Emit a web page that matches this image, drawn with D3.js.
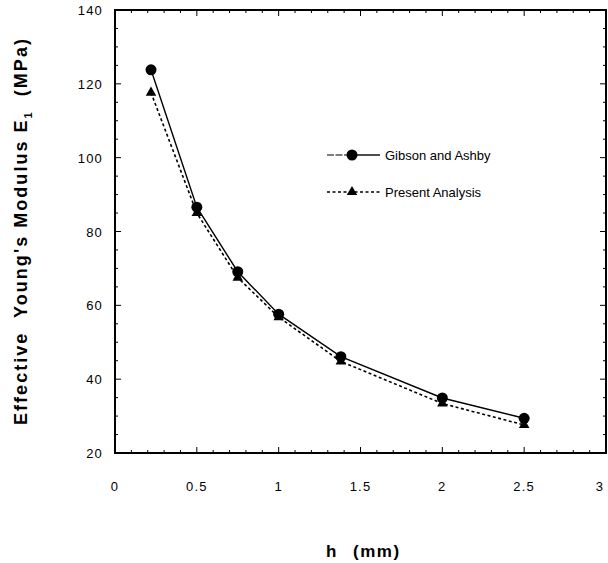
<!DOCTYPE html>
<html><head><meta charset="utf-8">
<script src="https://cdn.jsdelivr.net/npm/d3@7/dist/d3.min.js"></script>
<style>body{margin:0;background:#fff}svg{display:block}text{font-family:"Liberation Sans",Arial,Helvetica,sans-serif}</style>
</head><body><div id="c"></div>
<script>
const hValues = [0.22, 0.5, 0.75, 1.0, 1.38, 2.0, 2.5];
const gibsonAshby = [123.8, 86.6, 69.1, 57.6, 46.1, 34.9, 29.4];
const presentAnalysis = [117.6, 85.0, 67.5, 56.8, 44.8, 33.4, 27.6];
const xTicks = [0, 0.5, 1, 1.5, 2, 2.5, 3];
const xTickLabels = ["0", "0.5", "1", "1.5", "2", "2.5", "3"];
const yTicks = [20, 40, 60, 80, 100, 120, 140];
const seriesNames = ["Gibson and Ashby", "Present Analysis"];

const W = 608, H = 563;
const svg = d3.select("#c").append("svg").attr("width", W).attr("height", H);
const x = d3.scaleLinear().domain([0, 3]).range([115, 606]);
const y = d3.scaleLinear().domain([20, 140]).range([453, 10]);

// frame
svg.append("rect").attr("x", x(0)).attr("y", y(140)).attr("width", x(3) - x(0)).attr("height", y(20) - y(140))
  .attr("fill", "none").attr("stroke", "#000").attr("stroke-width", 2);

// ticks (inward), major and minor
const xMinor = d3.range(0, 3.0001, 0.1).filter(v => Math.abs(v * 2 - Math.round(v * 2)) > 1e-6);
const yMinor = d3.range(20, 140.001, 5).filter(v => v % 20 !== 0);
const tg = svg.append("g").attr("stroke", "#000").attr("stroke-width", 1);
xTicks.forEach(v => {
  tg.append("line").attr("x1", x(v)).attr("x2", x(v)).attr("y1", y(20)).attr("y2", y(20) - 6);
  tg.append("line").attr("x1", x(v)).attr("x2", x(v)).attr("y1", y(140)).attr("y2", y(140) + 6);
});
xMinor.forEach(v => {
  tg.append("line").attr("x1", x(v)).attr("x2", x(v)).attr("y1", y(20)).attr("y2", y(20) - 3);
  tg.append("line").attr("x1", x(v)).attr("x2", x(v)).attr("y1", y(140)).attr("y2", y(140) + 3);
});
yTicks.forEach(v => {
  tg.append("line").attr("x1", x(0)).attr("x2", x(0) + 6).attr("y1", y(v)).attr("y2", y(v));
  tg.append("line").attr("x1", x(3)).attr("x2", x(3) - 6).attr("y1", y(v)).attr("y2", y(v));
});
yMinor.forEach(v => {
  tg.append("line").attr("x1", x(0)).attr("x2", x(0) + 3).attr("y1", y(v)).attr("y2", y(v));
  tg.append("line").attr("x1", x(3)).attr("x2", x(3) - 3).attr("y1", y(v)).attr("y2", y(v));
});

// tick labels
svg.append("g").selectAll("text").data(xTicks).join("text")
  .attr("x", (d) => Math.min(x(d), 600)).attr("y", 491).attr("text-anchor", "middle")
  .attr("font-size", 13).attr("letter-spacing", 1.2)
  .text((d, i) => xTickLabels[i]);
svg.append("g").selectAll("text").data(yTicks).join("text")
  .attr("x", 103).attr("y", d => y(d) + 5).attr("text-anchor", "end")
  .attr("font-size", 13).attr("letter-spacing", 1.2)
  .text(d => d);

// axis titles
const xt = svg.append("g").attr("font-size", 17).attr("font-weight", "bold").attr("letter-spacing", 1.5);
xt.append("text").attr("x", 326).attr("y", 557).text("h");
xt.append("text").attr("x", 353).attr("y", 557).text("(mm)");

const yt = svg.append("text").attr("transform", "translate(27,231) rotate(-90)")
  .attr("text-anchor", "middle").attr("font-size", 18).attr("font-weight", "bold")
  .style("white-space", "pre");
yt.append("tspan").text("Effective  Young's Modulus E");
yt.append("tspan").attr("dy", 5).attr("font-size", 11).text("1");
yt.append("tspan").attr("dy", -5).text("  (MPa)");
{
  const L = yt.node().getComputedTextLength();
  const n = yt.text().length;
  const ls = Math.max(0, (388 - L) / n);
  yt.attr("letter-spacing", ls);
}

// lines
const line = d3.line().x(d => x(d[0])).y(d => y(d[1]));
const gData = hValues.map((h, i) => [h, gibsonAshby[i]]);
const pData = hValues.map((h, i) => [h, presentAnalysis[i]]);
svg.append("path").attr("d", line(pData)).attr("fill", "none").attr("stroke", "#000")
  .attr("stroke-width", 1.6).attr("stroke-dasharray", "3,2.5");
svg.append("path").attr("d", line(gData)).attr("fill", "none").attr("stroke", "#000").attr("stroke-width", 1.4);

const tri = d3.symbol().type(d3.symbolTriangle).size(48);
svg.append("g").selectAll("path").data(pData).join("path")
  .attr("d", tri).attr("transform", d => `translate(${x(d[0])},${y(d[1])})`).attr("fill", "#000");
svg.append("g").selectAll("circle").data(gData).join("circle")
  .attr("cx", d => x(d[0])).attr("cy", d => y(d[1])).attr("r", 5.5).attr("fill", "#000");

// legend
const lg = svg.append("g");
lg.append("line").attr("x1", 327).attr("x2", 352).attr("y1", 155).attr("y2", 155).attr("stroke", "#000")
  .attr("stroke-width", 1.2).attr("stroke-dasharray", "7,1.5");
lg.append("line").attr("x1", 352).attr("x2", 380).attr("y1", 155).attr("y2", 155).attr("stroke", "#000").attr("stroke-width", 1.4);
lg.append("circle").attr("cx", 352).attr("cy", 155).attr("r", 5.5).attr("fill", "#000");
lg.append("text").attr("x", 385).attr("y", 160).attr("font-size", 13).text(seriesNames[0]);
lg.append("line").attr("x1", 327).attr("x2", 380).attr("y1", 192).attr("y2", 192).attr("stroke", "#000")
  .attr("stroke-width", 1.5).attr("stroke-dasharray", "3,2.5");
lg.append("path").attr("d", tri).attr("transform", "translate(352,192)").attr("fill", "#000");
lg.append("text").attr("x", 385).attr("y", 197).attr("font-size", 13).text(seriesNames[1]);
</script></body></html>
